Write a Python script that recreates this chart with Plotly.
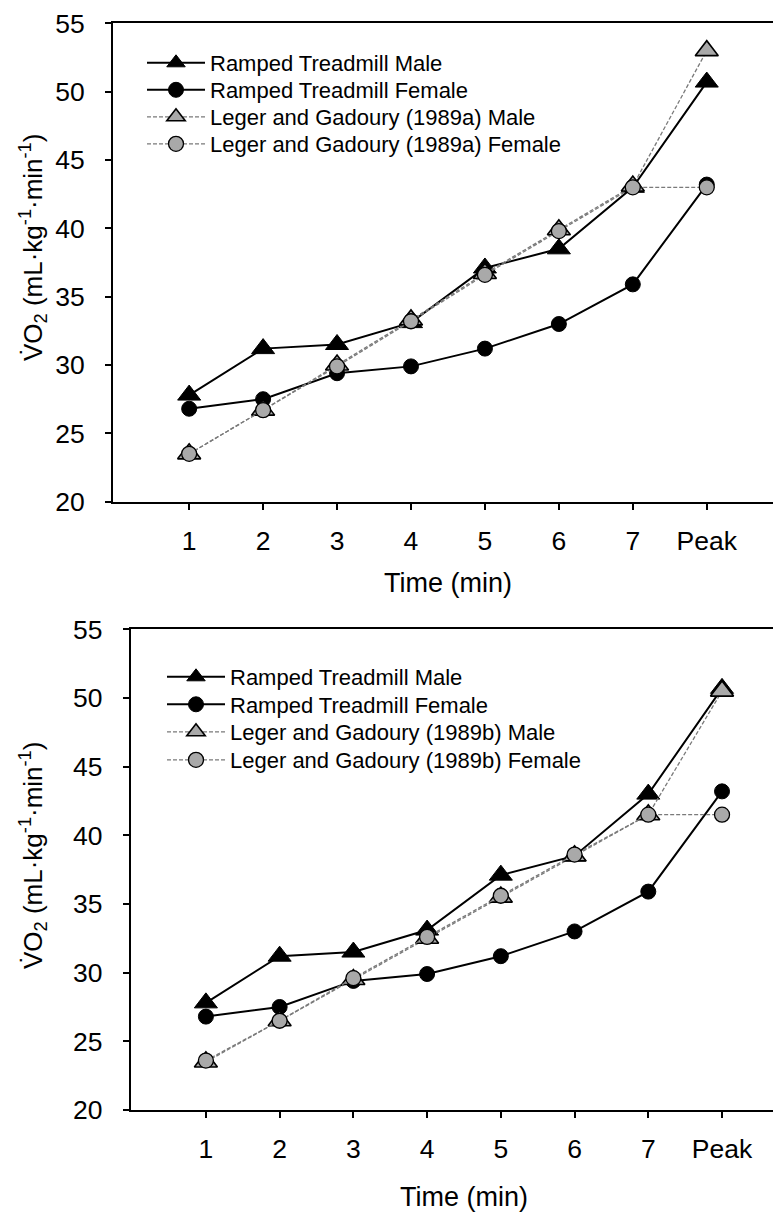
import plotly.graph_objects as go

# The page body adds an 8px margin, so the figure is sized and placed to compensate.
PAGE_OFF = 8
W, H = 781 - PAGE_OFF, 1213 - PAGE_OFF

# ---- data ----
time_ticks = [1, 2, 3, 4, 5, 6, 7, 8]
tick_labels = ["1", "2", "3", "4", "5", "6", "7", "Peak"]
y_ticks = [20, 25, 30, 35, 40, 45, 50, 55]

ramped_male = [27.8, 31.2, 31.5, 33.1, 37.1, 38.5, 43.0, 50.7]
ramped_female = [26.8, 27.5, 29.4, 29.9, 31.2, 33.0, 35.9, 43.2]

leger_a_male = [23.5, 26.7, 30.0, 33.3, 36.7, 39.9, 43.1, 53.0]
leger_a_female = [23.5, 26.7, 29.9, 33.2, 36.6, 39.8, 43.0, 43.0]

leger_b_male = [23.5, 26.5, 29.5, 32.5, 35.5, 38.5, 41.5, 50.5]
leger_b_female = [23.6, 26.5, 29.6, 32.6, 35.6, 38.6, 41.5, 41.5]

names_top = ["Ramped Treadmill Male", "Ramped Treadmill Female",
             "Leger and Gadoury (1989a) Male", "Leger and Gadoury (1989a) Female"]
names_bot = ["Ramped Treadmill Male", "Ramped Treadmill Female",
             "Leger and Gadoury (1989b) Male", "Leger and Gadoury (1989b) Female"]

FONT = "Liberation Sans, Arial, sans-serif"
GRAY_FILL = "#a9a9a9"
DASH_COLOR = "#7a7a7a"


def px_x(p):
    return (p - PAGE_OFF) / W


def px_y(p):
    return 1 - (p - PAGE_OFF) / H


styles = [
    dict(mode="lines+markers", line=dict(color="black", width=2),
         marker=dict(symbol="triangle-up", size=20, color="black",
                     line=dict(color="black", width=1))),
    dict(mode="lines+markers", line=dict(color="black", width=2),
         marker=dict(symbol="circle", size=15, color="black",
                     line=dict(color="black", width=1))),
    dict(mode="lines+markers", line=dict(color=DASH_COLOR, width=1.3, dash="4px,2px"),
         marker=dict(symbol="triangle-up", size=20, color=GRAY_FILL,
                     line=dict(color="black", width=1.6))),
    dict(mode="lines+markers", line=dict(color=DASH_COLOR, width=1.3, dash="4px,2px"),
         marker=dict(symbol="circle", size=15, color=GRAY_FILL,
                     line=dict(color="black", width=1.3))),
]

fig = go.Figure()
legend_layout = {}


def add_panel(xa, ya, series, names, first_legend, lx, row_ys):
    for i, (vals, name, st) in enumerate(zip(series, names, styles)):
        n = first_legend + i
        key = "legend" if n == 1 else f"legend{n}"
        fig.add_trace(go.Scatter(x=time_ticks, y=vals, name=name, xaxis=xa, yaxis=ya,
                                 legend=key, **st))
        legend_layout[key] = dict(
            x=px_x(lx), y=px_y(row_ys[i]), xanchor="left", yanchor="middle",
            bgcolor="rgba(0,0,0,0)", borderwidth=0, itemwidth=58,
            font=dict(family=FONT, size=22, color="black"))


add_panel("x", "y", [ramped_male, ramped_female, leger_a_male, leger_a_female],
          names_top, 1, 142, [63, 90, 117, 144])
add_panel("x2", "y2", [ramped_male, ramped_female, leger_b_male, leger_b_female],
          names_bot, 5, 162, [677, 704.5, 732, 760])

axis_common = dict(showgrid=False, zeroline=False, showline=True, linecolor="black",
                   linewidth=2, ticks="outside", ticklen=6, tickwidth=1.5,
                   tickcolor="black", automargin=False,
                   tickfont=dict(family=FONT, size=26.5, color="black"))

fig.update_layout(
    width=W, height=H, autosize=False,
    margin=dict(l=0, r=0, t=0, b=0, pad=0, autoexpand=False),
    paper_bgcolor="white", plot_bgcolor="white",
    showlegend=True,
    xaxis=dict(domain=[px_x(113), px_x(777)], range=[-0.03, 8.95], anchor="y",
               tickvals=time_ticks, ticktext=tick_labels, mirror=True,
               ticklabelstandoff=8, **axis_common),
    yaxis=dict(domain=[px_y(501.7), px_y(23.3)], range=[20, 55], anchor="x",
               tickvals=y_ticks, mirror=True,
               ticklabelstandoff=15, **axis_common),
    xaxis2=dict(domain=[px_x(130.7), 1.0], range=[-0.02, 8.80], anchor="y2",
                tickvals=time_ticks, ticktext=tick_labels, mirror=True,
                ticklabelstandoff=8, **axis_common),
    yaxis2=dict(domain=[px_y(1110), px_y(629.3)], range=[20, 55], anchor="x2",
                tickvals=y_ticks, mirror=False,
                ticklabelstandoff=15, **axis_common),
    **legend_layout,
)

ytitle = "V\u0307O<sub>2</sub> (mL\u00b7kg<sup>-1</sup>\u00b7min<sup>-1</sup>)"
title_font = dict(family=FONT, size=26, color="black")
fig.add_annotation(text=ytitle, textangle=-90, xref="paper", yref="paper",
                   x=px_x(33), y=px_y(248), xanchor="center", yanchor="middle",
                   showarrow=False, font=title_font)
fig.add_annotation(text=ytitle, textangle=-90, xref="paper", yref="paper",
                   x=px_x(33), y=px_y(856), xanchor="center", yanchor="middle",
                   showarrow=False, font=title_font)
fig.add_annotation(text="Time (min)", xref="x", yref="paper", x=4.5, y=px_y(583),
                   xanchor="center", yanchor="middle", showarrow=False,
                   font=dict(family=FONT, size=27, color="black"))
fig.add_annotation(text="Time (min)", xref="x2", yref="paper", x=4.5, y=px_y(1197),
                   xanchor="center", yanchor="middle", showarrow=False,
                   font=dict(family=FONT, size=27, color="black"))

fig.write_html("out.html")
